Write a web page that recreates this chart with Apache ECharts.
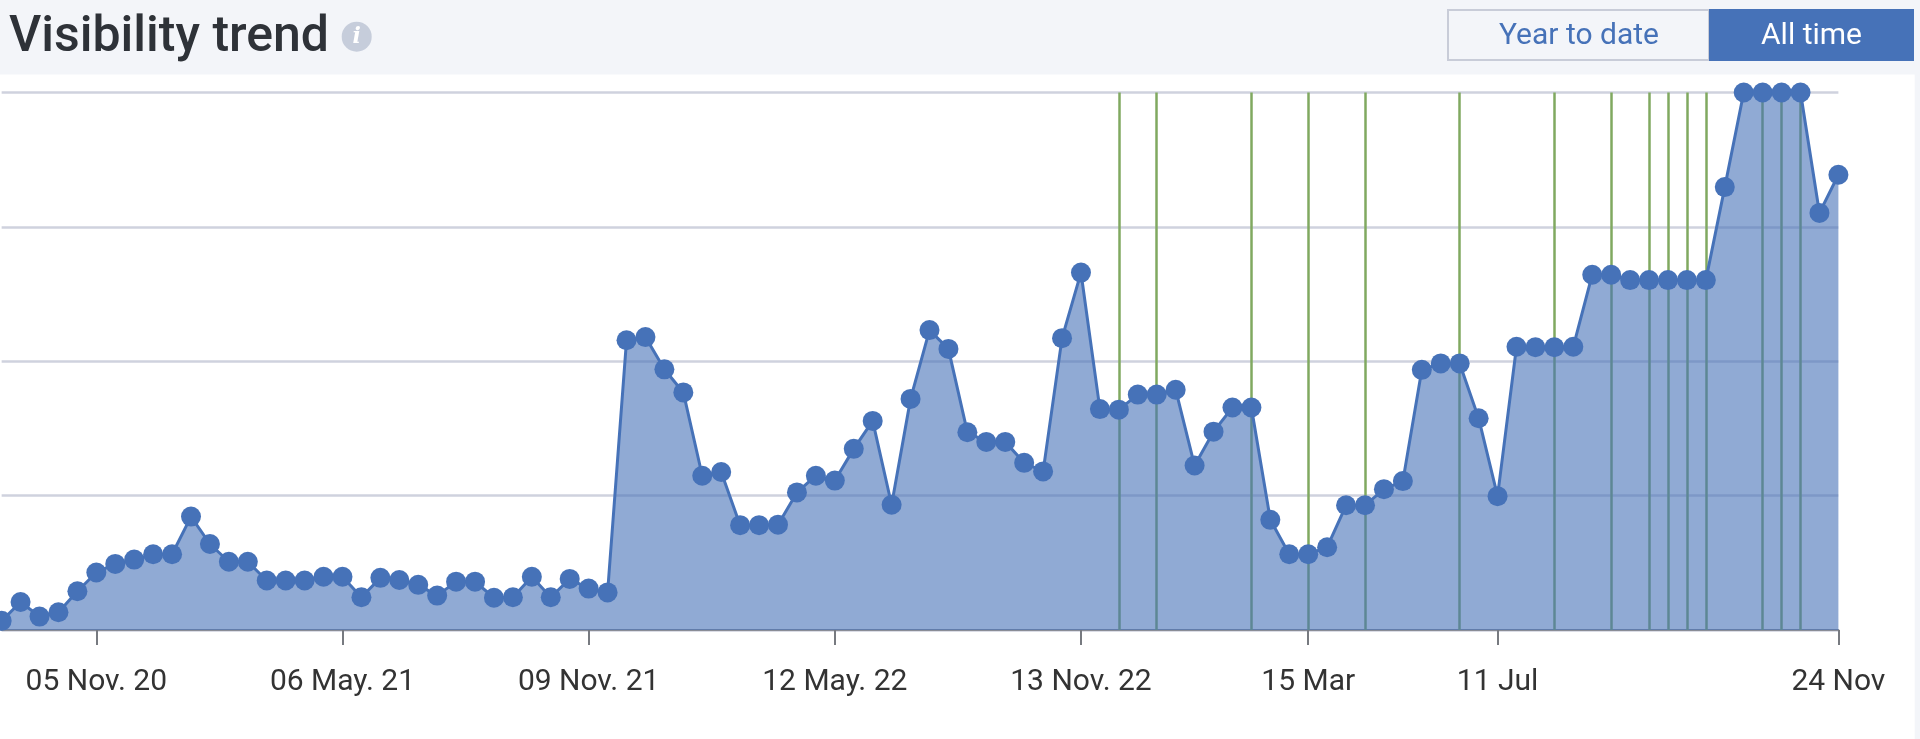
<!DOCTYPE html>
<html>
<head>
<meta charset="utf-8">
<style>html,body{margin:0;padding:0;overflow:hidden}#chart{width:1920px;height:739px}</style>
<script src="https://cdn.jsdelivr.net/npm/echarts@6/dist/echarts.min.js"></script>
</head>
<body>
<div id="chart"></div>
<script>
// Visibility score per reporting period, as a percentage of the axis range
const visibility = [
  1.7, 5.2, 2.5, 3.3, 7.2, 10.7, 12.3, 13.1, 14.1, 14.1,
  21.1, 16.0, 12.7, 12.7, 9.2, 9.2, 9.2, 9.9, 9.9, 6.1,
  9.7, 9.3, 8.4, 6.4, 9.0, 9.0, 6.0, 6.1, 9.9, 6.1,
  9.5, 7.7, 7.0, 53.9, 54.5, 48.5, 44.2, 28.7, 29.4, 19.5,
  19.5, 19.6, 25.6, 28.7, 27.8, 33.7, 38.9, 23.3, 43.0, 55.8,
  52.3, 36.8, 35.0, 35.0, 31.1, 29.5, 54.3, 66.5, 41.1, 41.0,
  43.8, 43.8, 44.7, 30.6, 36.9, 41.4, 41.4, 20.5, 14.1, 14.1,
  15.4, 23.2, 23.2, 26.2, 27.7, 48.4, 49.6, 49.6, 39.4, 24.9,
  52.7, 52.6, 52.6, 52.7, 66.1, 66.1, 65.1, 65.1, 65.1, 65.1,
  65.1, 82.4, 100, 100, 100, 100, 77.6, 84.7
];
// Positions along the time axis that carry a date label
const tickIndexes = [5, 18, 31, 44, 57, 69, 79, 97];
const tickLabels = ['05 Nov. 20', '06 May. 21', '09 Nov. 21', '12 May. 22', '13 Nov. 22', '15 Mar', '11 Jul', '24 Nov'];
// Periods flagged with a vertical event marker
const eventIndexes = [59, 61, 66, 69, 72, 77, 82, 85, 87, 88, 89, 90, 93, 94, 95];
const rangeOptions = ['Year to date', 'All time'];

const categories = visibility.map((_, i) => {
  const t = tickIndexes.indexOf(i);
  return t >= 0 ? tickLabels[t] : String(i);
});

const FONT = 'Roboto, sans-serif';
const BLUE = '#4672b8';
const isTick = (i) => tickIndexes.indexOf(i) >= 0;

const chart = echarts.init(document.getElementById('chart'), null, { renderer: 'canvas' });
chart.setOption({
  animation: false,
  backgroundColor: '#f3f5f9',
  title: {
    text: 'Visibility trend',
    left: 4, top: 3,
    textStyle: { fontFamily: FONT, fontSize: 50, fontWeight: 500, color: '#2e3238', lineHeight: 60 }
  },
  grid: { left: 1.65, right: 81.6, top: 92.5, bottom: 109, containLabel: false },
  xAxis: {
    type: 'category',
    data: categories,
    boundaryGap: false,
    axisLine: { lineStyle: { color: '#8a8d96', width: 2 } },
    axisTick: { length: 15, lineStyle: { color: '#777a80', width: 2 }, interval: (i) => isTick(i), alignWithLabel: true },
    axisLabel: {
      interval: (i) => isTick(i),
      margin: 37,
      fontFamily: FONT, fontSize: 30, fontWeight: 400, color: '#333',
      showMinLabel: true, showMaxLabel: true, hideOverlap: false
    }
  },
  yAxis: {
    type: 'value',
    min: 0, max: 100, interval: 25,
    axisLabel: { show: false },
    axisLine: { show: false },
    axisTick: { show: false },
    splitLine: { lineStyle: { color: '#cfd2de', width: 2.5 } }
  },
  series: [{
    name: 'Visibility',
    type: 'line',
    data: visibility,
    z: 3,
    clip: false,
    showAllSymbol: true,
    symbol: 'circle',
    symbolSize: 20,
    itemStyle: { color: BLUE },
    lineStyle: { color: BLUE, width: 3 },
    areaStyle: { color: BLUE, opacity: 0.6 },
    markLine: {
      z: 1,
      silent: true,
      symbol: 'none',
      animation: false,
      label: { show: false },
      lineStyle: { color: '#80a960', width: 2.5, type: 'solid' },
      data: eventIndexes.map((i) => ({ xAxis: i }))
    }
  }],
  graphic: [
    { type: 'rect', z: -1, shape: { x: 0, y: 74.5, width: 1914.7, height: 665 }, style: { fill: '#ffffff' } },
    { type: 'circle', shape: { cx: 356.7, cy: 36.7, r: 15 }, style: { fill: '#c6cddb' } },
    { type: 'text', x: 356.7, y: 37, style: { text: 'i', fill: '#ffffff', font: 'italic 700 22px "DejaVu Serif", serif', align: 'center', verticalAlign: 'middle' } },
    { type: 'rect', shape: { x: 1448, y: 10, width: 261, height: 50 }, style: { fill: '#f3f5f9', stroke: '#c8ccd8', lineWidth: 2 } },
    { type: 'rect', shape: { x: 1709, y: 9, width: 205, height: 52 }, style: { fill: BLUE } },
    { type: 'text', x: 1579, y: 36, style: { text: rangeOptions[0], fill: BLUE, font: '400 30px Roboto, sans-serif', align: 'center', verticalAlign: 'middle' } },
    { type: 'text', x: 1811.5, y: 36, style: { text: rangeOptions[1], fill: '#ffffff', font: '400 30px Roboto, sans-serif', align: 'center', verticalAlign: 'middle' } }
  ]
});
</script>
</body>
</html>
